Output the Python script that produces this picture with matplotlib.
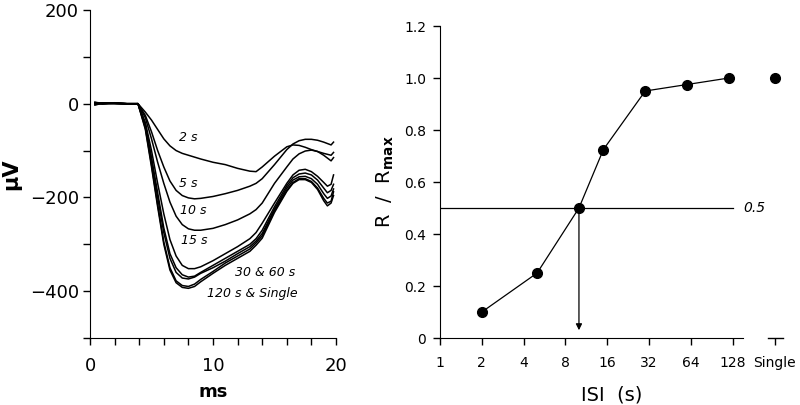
import numpy as np
import matplotlib
matplotlib.use("Agg")
import matplotlib.pyplot as plt

# ---- left panel: averaged responses at each ISI (ms vs uV) ----
TIME_MS = [0.4, 1.0, 2.0, 3.0, 3.9, 4.5, 5.0, 5.5, 6.0, 6.5, 7.0, 7.5, 8.0, 8.5, 9.0,
           10.0, 11.0, 12.0, 13.0, 13.5, 14.0, 15.0, 16.0, 16.5, 17.0, 17.5, 18.0,
           18.5, 19.0, 19.3, 19.6, 19.8]

TRACE_2S = [3, 1, 2, 0, 0, -18, -35, -55, -75, -90, -100, -106, -110, -114, -118,
            -125, -130, -138, -144, -145, -135, -112, -92, -88, -89, -93, -98,
            -102, -106, -108, -110, -104]
TRACE_5S = [1, 0, 2, 0, 0, -25, -60, -100, -135, -165, -185, -196, -201, -203, -202,
            -198, -192, -185, -176, -170, -160, -130, -98, -86, -79, -76, -76,
            -78, -82, -85, -88, -82]
TRACE_10S = [0, 2, 1, 0, 0, -30, -75, -125, -170, -210, -240, -258, -267, -270, -270,
             -266, -258, -248, -235, -226, -212, -170, -135, -118, -107, -101, -99,
             -102, -110, -116, -122, -115]
TRACE_15S = [2, 0, 1, -1, 0, -40, -100, -170, -235, -290, -325, -345, -352, -352, -348,
             -335, -320, -305, -288, -275, -255, -212, -170, -152, -142, -140, -145,
             -155, -168, -176, -172, -152]
TRACE_30S = [-2, 1, 0, 0, 0, -45, -115, -190, -265, -320, -350, -365, -370, -368, -360,
             -345, -330, -315, -300, -288, -270, -220, -175, -158, -150, -148, -152,
             -163, -180, -190, -185, -172]
TRACE_60S = [0, 0, 2, 0, 0, -48, -120, -200, -275, -330, -360, -372, -374, -370, -362,
             -350, -336, -320, -305, -293, -277, -225, -180, -163, -156, -155, -160,
             -172, -192, -202, -197, -182]
TRACE_120S = [-3, 1, 0, -1, 0, -52, -130, -215, -295, -350, -378, -388, -390, -385, -375,
              -358, -340, -325, -310, -297, -282, -228, -185, -168, -160, -160, -166,
              -180, -202, -212, -208, -188]
TRACE_SINGLE = [3, -1, 1, 0, 0, -55, -135, -220, -300, -355, -382, -392, -394, -390, -380,
                -362, -345, -330, -315, -302, -287, -232, -187, -170, -162, -162, -168,
                -183, -207, -218, -212, -196]

TRACE_LABELS = ["2 s", "5 s", "10 s", "15 s", "30 & 60 s", "120 s & Single"]
TRACE_LABEL_X = [8.0, 8.0, 8.4, 8.5, 14.2, 13.2]
TRACE_LABEL_Y = [-72, -170, -228, -292, -360, -405]

# ---- right panel: normalised response vs ISI ----
ISI_S = [2, 5, 10, 15, 30, 60, 120]
R_NORM = [0.10, 0.25, 0.50, 0.725, 0.95, 0.975, 1.0]
SINGLE_POS = 256          # where "Single" sits on the log2 axis
SINGLE_R = 1.0
HALF_LEVEL = 0.5
HALF_ISI = 10

ISI_TICKS = [1, 2, 4, 8, 16, 32, 64, 128, 256]
ISI_TICK_LABELS = ["1", "2", "4", "8", "16", "32", "64", "128", "Single"]
R_TICKS = [0, 0.2, 0.4, 0.6, 0.8, 1.0, 1.2]
R_TICK_LABELS = ["0", "0.2", "0.4", "0.6", "0.8", "1.0", "1.2"]

plt.rcParams["font.family"] = ["DejaVu Sans"]

fig = plt.figure(figsize=(8.0, 4.05), dpi=100)
ax1 = fig.add_axes([0.1125, 0.1654, 0.3075, 0.81])
ax2 = fig.add_axes([0.55, 0.1654, 0.42875, 0.7704])

# left panel
traces = [TRACE_2S, TRACE_5S, TRACE_10S, TRACE_15S, TRACE_30S, TRACE_60S,
          TRACE_120S, TRACE_SINGLE]
for tr in traces:
    ax1.plot(TIME_MS, tr, color="black", linewidth=1.1)
for lab, x, y in zip(TRACE_LABELS, TRACE_LABEL_X, TRACE_LABEL_Y):
    ax1.text(x, y, lab, fontsize=9, style="italic", ha="center", va="center")

ax1.set_xlim(0, 20)
ax1.set_ylim(-500, 200)
ax1.set_xticks([0, 10, 20])
ax1.set_xticks(np.arange(0, 21, 2), minor=True)
ax1.set_yticks([-400, -200, 0, 200])
ax1.set_yticks(np.arange(-500, 201, 100), minor=True)
ax1.set_yticklabels(["\u2212400", "\u2212200", "0", "200"])
for side in ("top", "right"):
    ax1.spines[side].set_visible(False)
ax1.tick_params(which="both", direction="out", length=5, width=1)
ax1.tick_params(axis="x", which="both", labelsize=13, pad=9)
ax1.tick_params(axis="y", which="both", labelsize=13, pad=3)
ax1.set_xlabel("ms", fontsize=13, fontweight="bold", va="baseline")
ax1.set_ylabel("\u03bcV", fontsize=15, fontweight="bold")
ax1.xaxis.set_label_coords(0.5, -0.18)
ax1.yaxis.set_label_coords(-0.28, 0.5)

# right panel
ax2.set_xscale("log", base=2)
ax2.plot(ISI_S, R_NORM, color="black", linewidth=0.9, marker="o",
         markersize=7, markerfacecolor="black", zorder=3)
ax2.plot([SINGLE_POS], [SINGLE_R], color="black", marker="o", markersize=7,
         linestyle="none", zorder=3)
ax2.plot([1, 128], [HALF_LEVEL, HALF_LEVEL], color="black", linewidth=0.9)
ax2.text(152, HALF_LEVEL, "0.5", fontsize=10, style="italic", ha="left", va="center")
ax2.annotate("", xy=(HALF_ISI, 0.03), xytext=(HALF_ISI, HALF_LEVEL),
             arrowprops=dict(arrowstyle="-|>", color="black", linewidth=0.9,
                             mutation_scale=9, shrinkA=0, shrinkB=0))

ax2.set_xlim(1, 2 ** 8.2)
ax2.set_ylim(0, 1.2)
ax2.set_xticks(ISI_TICKS)
ax2.set_xticklabels(ISI_TICK_LABELS)
ax2.xaxis.set_minor_locator(matplotlib.ticker.NullLocator())
ax2.set_yticks(R_TICKS)
ax2.set_yticklabels(R_TICK_LABELS)
for side in ("top", "right"):
    ax2.spines[side].set_visible(False)
# broken x axis: main part up to ~150, short piece around "Single"
ax2.spines["bottom"].set_bounds(1, 152)
ax2.plot([230, 2 ** 8.2], [0, 0], color="black", linewidth=1,
         transform=ax2.get_xaxis_transform(), clip_on=False)
ax2.tick_params(which="both", direction="out", length=5, width=1, labelsize=10)
ax2.tick_params(axis="x", pad=8)
ax2.tick_params(axis="y", pad=5)
ax2.set_xlabel("ISI  (s)", fontsize=14)
ax2.set_ylabel("R  /  R$_{\\mathbf{max}}$", fontsize=14)
ax2.xaxis.set_label_coords(0.5, -0.151)
ax2.yaxis.set_label_coords(-0.128, 0.5)

fig.savefig("out.png", dpi=100)
